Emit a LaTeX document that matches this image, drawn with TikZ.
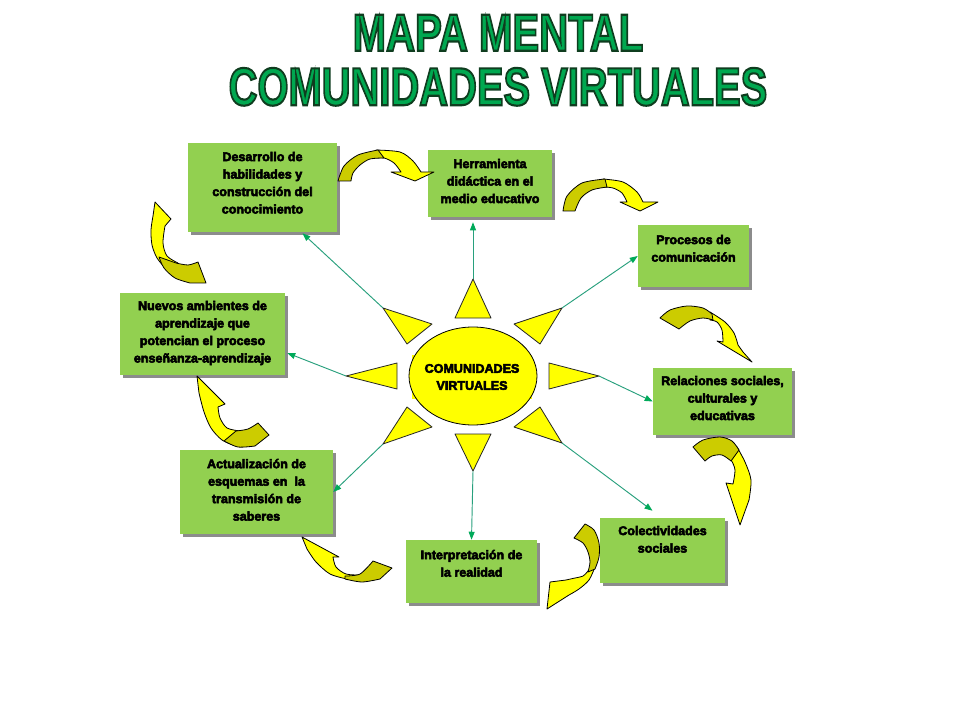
\documentclass[tikz,border=0pt]{standalone}
\usepackage{fontspec}
\usepackage{graphicx}
\setmainfont{Liberation Sans}
\newfontfamily\boxfont{Liberation Sans Bold}
\newfontfamily\titlefont{Liberation Sans Bold}
\usetikzlibrary{arrows.meta,shapes.geometric,fit,calc,shadows}
\definecolor{boxgreen}{RGB}{146,208,80}
\definecolor{titlegreen}{RGB}{0,168,80}
\definecolor{sunyellow}{RGB}{255,255,0}
\definecolor{olivey}{RGB}{204,204,0}
\definecolor{conncol}{RGB}{40,160,125}
\definecolor{tipcol}{RGB}{0,170,90}
\newcommand\outlinedtext[1]{\special{pdf:literal direct 2 Tr 0.4 w 0.06 0.24 0.12 RG}#1\special{pdf:literal direct 0 Tr}}
\newcommand\heavyon{\special{pdf:literal direct 2 Tr 0.4 w 0 0 0 RG}}
\newcommand\heavyoff{\special{pdf:literal direct 0 Tr}}
\begin{document}
\begin{tikzpicture}[x=0.75pt,y=-0.75pt,
  box/.style={rectangle, fill=boxgreen, inner sep=0pt, draw=none,
    drop shadow={shadow xshift=2.2pt, shadow yshift=-2.2pt, fill=black!45, opacity=1}},
  lbl/.style={font=\boxfont\fontsize{9.4}{13.1}\selectfont, align=center, anchor=north, inner sep=0pt},
  ray/.style={fill=sunyellow, draw=black!85, line width=0.6pt, line join=round},
  conn/.style={draw=conncol, line width=0.7pt, -{Triangle[length=6pt,width=4.5pt,color=tipcol]}},
  yarr/.style={fill=sunyellow, draw=black, line width=0.6pt, line join=round},
  oarr/.style={fill=olivey, draw=black, line width=0.6pt, line join=round},
  titlenode/.style={anchor=south, inner sep=0pt, font=\titlefont, text=titlegreen}]
\useasboundingbox[fill=white] (0,0) rectangle (960,720);

% ---------- title ----------
\node[titlenode] (title1) at (498,51) {\resizebox{218pt}{27pt}{\outlinedtext{MAPA MENTAL}}};
\node[titlenode] (title2) at (498,106) {\resizebox{404pt}{28pt}{\outlinedtext{COMUNIDADES VIRTUALES}}};

% ---------- boxes ----------
\node[box, fit={(188,143) (337,232)}] (b1) {};
\node[box, fit={(428,150) (552,217)}] (b2) {};
\node[box, fit={(638,225) (749,287)}] (b3) {};
\node[box, fit={(653,368) (792,435)}] (b4) {};
\node[box, fit={(600,518) (725,583)}] (b5) {};
\node[box, fit={(406,540) (537,603)}] (b6) {};
\node[box, fit={(180,450) (333,534)}] (b7) {};
\node[box, fit={(120,293) (285,375)}] (b8) {};

\node[lbl] (t1) at ($(b1.north)+(0,9)$) {\heavyon Desarrollo de\\habilidades y\\construcción del\\conocimiento\heavyoff};
\node[lbl] (t2) at ($(b2.north)+(0,9)$) {\heavyon Herramienta\\didáctica en el\\medio educativo\heavyoff};
\node[lbl] (t3) at ($(b3.north)+(0,10)$) {\heavyon Procesos de\\comunicación\heavyoff};
\node[lbl] (t4) at ($(b4.north)+(0,8)$) {\heavyon Relaciones sociales,\\culturales y\\educativas\heavyoff};
\node[lbl] (t5) at ($(b5.north)+(0,8)$) {\heavyon Colectividades\\sociales\heavyoff};
\node[lbl] (t6) at ($(b6.north)+(0,10)$) {\heavyon Interpretación de\\la realidad\heavyoff};
\node[lbl] (t7) at ($(b7.north)+(0,9)$) {\heavyon Actualización de\\esquemas en\ \ la\\transmisión de\\saberes\heavyoff};
\node[lbl] (t8) at ($(b8.north)+(0,8)$) {\heavyon Nuevos ambientes de\\aprendizaje que\\potencian el proceso\\enseñanza-aprendizaje\heavyoff};

% ---------- sun ----------
\coordinate (rN) at (473,279);
\coordinate (rNE) at (562,308);
\coordinate (rE) at (599,376);
\coordinate (rSE) at (562,443);
\coordinate (rS) at (473,471);
\coordinate (rSW) at (383,444);
\coordinate (rW) at (346,376);
\coordinate (rNW) at (383,308);

\draw[conn] (rNW) -- ($(b1.south)+(40,1)$);
\draw[conn] (rN) -- ($(b2.south)+(-17,5)$);
\draw[conn] (rNE) -- (b3.west);
\draw[conn] (rE) -- (b4.west);
\draw[conn] (rSE) -- ($(b5.north)+(-10,-7)$);
\draw[conn] (rS) -- (b6.north);
\draw[conn] (rSW) -- (b7.east);
\draw[conn] (rW) -- ($(b8.east)+(2,19)$);

\filldraw[ray] (455,318) -- (491,318) -- (rN) -- cycle;
\filldraw[ray] (514,324) -- (540,344) -- (rNE) -- cycle;
\filldraw[ray] (549,363) -- (549,389) -- (rE) -- cycle;
\filldraw[ray] (514,427) -- (540,407) -- (rSE) -- cycle;
\filldraw[ray] (455,434) -- (491,434) -- (rS) -- cycle;
\filldraw[ray] (407,407) -- (432,427) -- (rSW) -- cycle;
\filldraw[ray] (397,363) -- (397,389) -- (rW) -- cycle;
\filldraw[ray] (407,344) -- (432,324) -- (rNW) -- cycle;

\path[fill=sunyellow] (473,376) ellipse [x radius=64, y radius=49];
\node[fill=sunyellow, inner sep=0pt, minimum width=90pt, minimum height=33pt,
  font=\boxfont\fontsize{9.4}{12.8}\selectfont, align=center] (ct) at (472,377) {\heavyon COMUNIDADES\\VIRTUALES\heavyoff};
\node[ellipse, draw=black, line width=0.6pt, minimum width=96pt, minimum height=73.5pt, inner sep=0pt] (c) at (473,376) {};

% ---------- curved arrows ----------
% A
\filldraw[yarr] plot[smooth] coordinates {(376,150) (400,152) (413,161) (421,172)} -- (434,172) -- (415,181) -- (391,172) -- plot[smooth] coordinates {(401,172) (394,163) (384,158) (372,158)} -- cycle;
\filldraw[oarr] plot[smooth] coordinates {(338,181) (344,166) (358,155) (378,150)} -- plot[smooth] coordinates {(384,158) (370,159) (360,165) (353,173) (351,181)} -- cycle;
% B
\filldraw[yarr] plot[smooth] coordinates {(603,179) (623,182) (637,192) (643,202)} -- (658,202) -- (640,211) -- (620,202) -- plot[smooth] coordinates {(627,202) (622,193) (613,188) (603,187)} -- cycle;
\filldraw[oarr] plot[smooth] coordinates {(563,211) (567,196) (582,183) (605,179)} -- plot[smooth] coordinates {(607,187) (592,190) (581,198) (575,211)} -- cycle;
% C
\filldraw[yarr] plot[smooth] coordinates {(710,312) (725,322) (734,333) (738,345)} -- (743,352) -- (752,362) -- (717,341) -- plot[smooth] coordinates {(723,342) (722,330) (717,322) (710,320)} -- cycle;
\filldraw[oarr] plot[smooth] coordinates {(660,318) (670,310) (687,306) (703,308) (712,314)} -- plot[smooth] coordinates {(713,320) (703,318) (690,321) (679,329)} -- cycle;
% D
\filldraw[yarr] plot[smooth] coordinates {(737,447) (745,462) (751,480) (749,500)} -- (740,525) -- (726,483) -- plot[smooth] coordinates {(733,484) (735,470) (731,460) (725,456)} -- cycle;
\filldraw[oarr] plot[smooth] coordinates {(693,447) (703,440) (720,437) (732,441) (739,450)} -- plot[smooth] coordinates {(731,461) (722,455) (712,456) (705,461)} -- cycle;
% E
\filldraw[yarr] plot[smooth] coordinates {(595,567) (589,580) (579,589) (569,595)} -- (547,609) -- (550,582) -- (566,580) -- plot[smooth] coordinates {(575,578) (583,576) (588,571)} -- cycle;
\filldraw[oarr] plot[smooth] coordinates {(585,524) (594,530) (599,543) (599,557) (595,569)} -- plot[smooth] coordinates {(588,572) (590,562) (588,552) (583,543) (574,538)} -- cycle;
% F
\filldraw[yarr] (302,537) -- (339,557) -- plot[smooth] coordinates {(333,557) (336,567) (346,574) (360,575)} -- plot[smooth] coordinates {(347,579) (330,574) (316,562) (307,549)} -- cycle;
\filldraw[oarr] plot[smooth] coordinates {(345,576) (360,574) (373,561)} -- (392,568) -- plot[smooth] coordinates {(380,579) (362,582) (345,579)} -- cycle;
% G
\filldraw[yarr] (197,376) -- (225,404) -- plot[smooth] coordinates {(218,407) (220,418) (227,428) (240,431)} -- plot[smooth] coordinates {(236,446) (222,440) (211,428) (204,412) (199,393)} -- cycle;
\filldraw[oarr] plot[smooth] coordinates {(236,431) (248,429) (258,423)} -- (269,435) -- plot[smooth] coordinates {(255,446) (238,447) (224,441)} -- cycle;
% H
\filldraw[yarr] (155,202) -- (171,219) -- plot[smooth] coordinates {(165,226) (163,243) (167,256) (178,263)} -- plot[smooth] coordinates {(166,269) (157,258) (152,245) (151,230) (153,216)} -- cycle;
\filldraw[oarr] plot[smooth] coordinates {(176,263) (188,265) (198,262)} -- (206,283) -- plot[smooth] coordinates {(190,283) (175,278) (164,268) (159,257)} -- cycle;
\end{tikzpicture}
\end{document}
